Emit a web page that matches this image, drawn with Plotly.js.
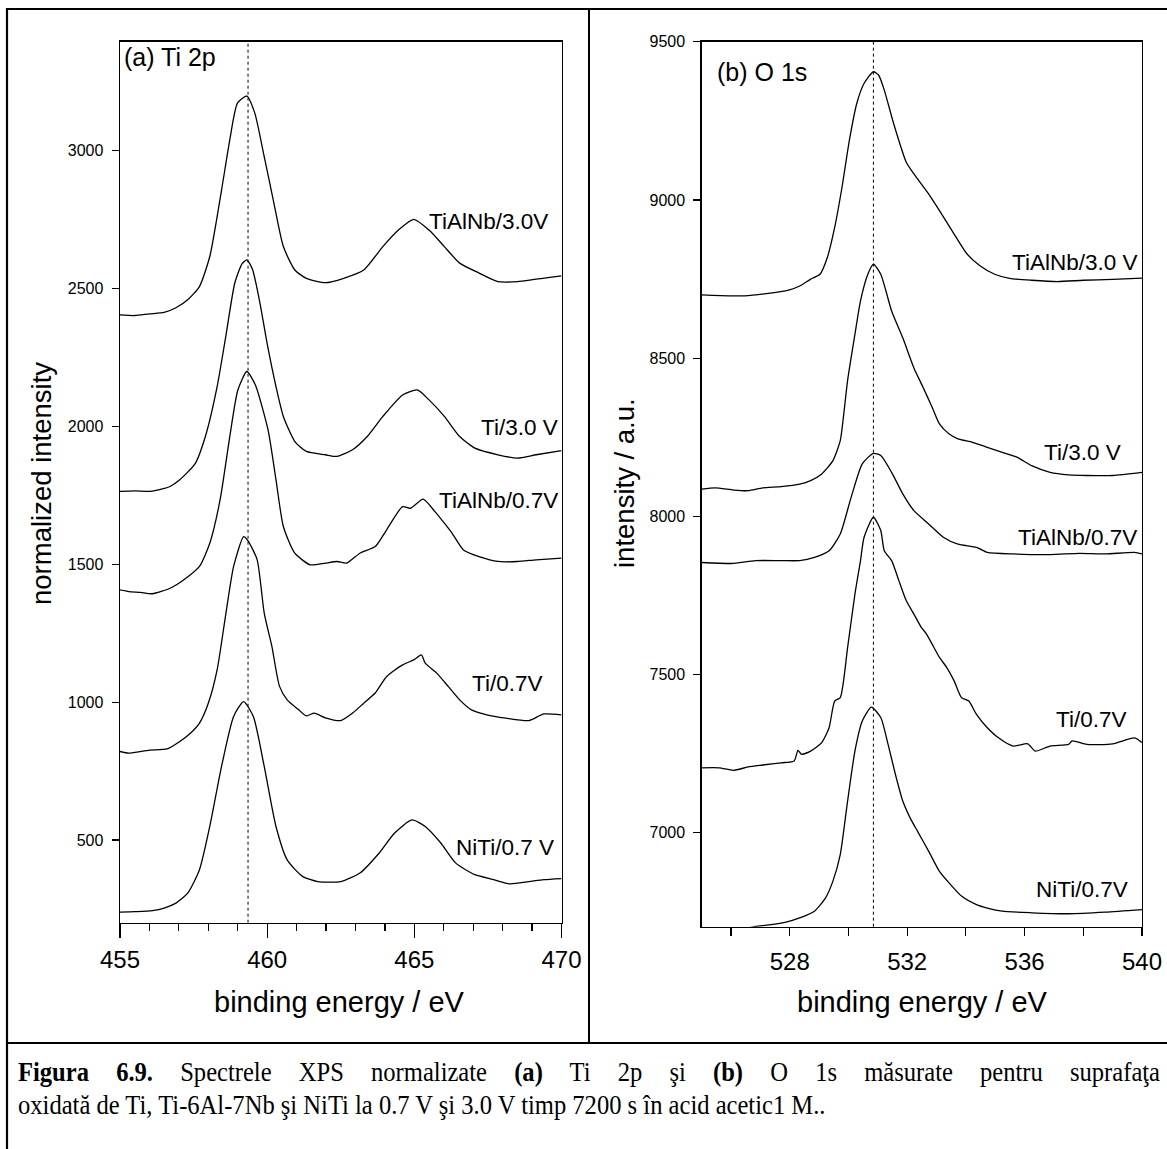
<!DOCTYPE html>
<html>
<head>
<meta charset="utf-8">
<script src="https://cdn.plot.ly/plotly-3.0.1.min.js"></script>
<style>
  html, body { margin:0; padding:0; background:#fff; }
  #wrap { position:relative; width:1167px; height:1149px; overflow:hidden; }
  #chart { position:absolute; left:0; top:0; width:1167px; height:1149px; }
  .cap { position:absolute; left:18px; font-family:"Liberation Serif","Times New Roman",serif; font-size:27px; line-height:27px; color:#000; transform:scaleX(0.91); transform-origin:0 0; white-space:nowrap; }
  #cap1 { top:1059px; width:1255px; text-align:justify; text-align-last:justify; }
  #cap2 { top:1092px; }
</style>
</head>
<body>
<div id="wrap">
  <div id="chart"></div>
  <div id="cap1" class="cap"><b>Figura 6.9.</b> Spectrele XPS normalizate <b>(a)</b> Ti 2p şi <b>(b)</b> O 1s măsurate pentru suprafaţa</div>
  <div id="cap2" class="cap">oxidată de Ti, Ti-6Al-7Nb şi NiTi la 0.7 V şi 3.0 V timp 7200 s în acid acetic1 M..</div>
</div>
<script>
// ---------- Panel (a): Ti 2p ----------
const ti2p_TiAlNb30_x = [455.0,455.5,456.0,456.5,456.9,457.3,457.7,458.05,458.45,458.73,458.99,459.31,459.58,459.9,460.23,460.55,460.94,461.33,461.98,462.6,463.28,463.93,464.46,464.98,465.5,466.02,466.54,467.2,467.84,468.5,469.14,469.6,470.0];
const ti2p_TiAlNb30_y = [2404,2402,2408,2413,2430,2459,2507,2616,2857,3039,3172,3198,3136,2978,2809,2652,2567,2537,2521,2537,2567,2652,2712,2751,2712,2652,2592,2556,2525,2525,2534,2540,2546];

const ti2p_Ti30_x = [455.0,455.5,456.1,456.7,457.03,457.56,457.9,458.3,458.6,458.9,459.15,459.31,459.5,459.75,460.0,460.3,460.55,460.94,461.33,461.98,462.37,462.9,463.4,463.93,464.6,465.1,465.5,466.02,466.54,467.06,467.84,468.5,469.14,470.0];
const ti2p_Ti30_y = [1764,1766,1765,1782,1806,1866,1963,2144,2330,2520,2590,2604,2570,2450,2300,2144,2036,1945,1909,1897,1891,1915,1963,2036,2114,2132,2096,2036,1963,1921,1897,1885,1897,1912];

const ti2p_TiAlNb07_x = [455.0,455.3,455.7,456.1,456.7,457.16,457.7,458.05,458.4,458.73,459.0,459.31,459.6,460.03,460.3,460.55,460.94,461.46,461.98,462.37,462.7,463.15,463.67,464.06,464.6,464.86,465.3,465.7,466.02,466.28,466.67,467.2,467.84,468.5,469.14,470.0];
const ti2p_TiAlNb07_y = [1407,1401,1398,1393,1413,1443,1492,1576,1733,1963,2130,2199,2150,1987,1806,1637,1540,1498,1504,1510,1504,1540,1564,1625,1709,1703,1736,1691,1649,1613,1552,1528,1510,1510,1516,1522];

const ti2p_Ti07_x = [455.0,455.3,456.0,456.6,457.03,457.4,457.7,458.0,458.3,458.6,458.86,459.2,459.35,459.66,459.9,460.16,460.42,460.68,461.07,461.33,461.6,461.98,462.5,462.9,463.28,463.67,464.06,464.6,464.98,465.24,465.37,465.76,466.15,466.54,466.94,467.46,468.11,468.89,469.4,470.0];
const ti2p_Ti07_y = [821,815,826,830,857,888,924,996,1117,1323,1492,1600,1585,1516,1323,1202,1057,1008,972,950,960,943,933,960,996,1033,1093,1135,1153,1171,1141,1105,1057,1008,972,954,942,933,957,954];

const ti2p_NiTi07_x = [455.0,455.5,456.1,456.5,456.9,457.3,457.7,458.05,458.45,458.86,459.2,459.53,459.9,460.3,460.68,461.2,461.72,462.5,463.15,463.8,464.33,464.92,465.37,465.9,466.41,467.06,467.7,468.24,468.89,469.4,470.0];
const ti2p_NiTi07_y = [238,240,244,253,271,307,392,549,767,948,1002,948,767,549,428,368,349,349,380,452,525,573,549,489,416,374,356,341,349,356,360];

// ---------- Panel (b): O 1s ----------
const o1s_TiAlNb30_x = [525.0,525.97,526.46,527.2,527.96,528.34,528.7,529.03,529.28,529.53,529.78,530.03,530.28,530.53,530.85,531.03,531.22,531.54,531.97,532.23,532.73,533.1,533.6,534.04,534.48,534.98,535.49,536.24,537.12,538.0,539.0,540.0];
const o1s_TiAlNb30_y = [8700,8697,8697,8704,8715,8728,8749,8765,8818,8913,9040,9188,9304,9368,9405,9394,9347,9241,9119,9082,9019,8966,8892,8829,8792,8765,8752,8746,8742,8746,8749,8753];

const o1s_Ti30_x = [525.0,525.46,526.09,526.58,527.08,527.71,528.34,528.71,529.09,529.47,529.72,529.84,529.97,530.22,530.41,530.66,530.85,531.1,531.47,531.85,532.23,532.54,532.85,533.1,533.42,533.73,534.23,534.73,535.24,535.74,536.24,536.87,537.5,538.12,539.0,540.0];
const o1s_Ti30_y = [8086,8090,8083,8081,8090,8094,8102,8113,8134,8176,8239,8324,8429,8575,8681,8765,8797,8765,8649,8564,8469,8408,8345,8292,8261,8245,8234,8218,8202,8187,8160,8139,8131,8129,8129,8139];

const o1s_TiAlNb07_x = [525.0,526.09,526.83,527.71,528.34,528.84,529.34,529.72,530.09,530.47,530.85,531.1,531.47,531.85,532.23,532.73,533.23,533.73,534.36,534.73,535.61,536.87,537.87,538.75,539.75,540.0];
const o1s_TiAlNb07_y = [7854,7851,7860,7860,7860,7870,7891,7944,8060,8166,8199,8192,8139,8071,8018,7976,7934,7912,7902,7886,7881,7879,7883,7881,7886,7881];

const o1s_Ti07_x = [525.0,525.6,526.08,526.58,527.08,527.71,528.15,528.28,528.4,528.71,529.09,529.34,529.53,529.72,529.97,530.22,530.41,530.53,530.85,531.1,531.22,531.47,531.72,531.97,532.23,532.48,532.66,532.85,533.1,533.35,533.6,533.85,534.1,534.36,534.73,535.11,535.61,536.11,536.36,536.87,537.5,537.62,538.12,539.0,539.75,540.0];
const o1s_Ti07_y = [7205,7205,7197,7208,7214,7221,7227,7260,7248,7258,7285,7332,7416,7427,7585,7754,7860,7933,7997,7955,7891,7860,7796,7733,7691,7649,7628,7596,7554,7522,7480,7427,7416,7374,7332,7300,7274,7281,7258,7274,7279,7290,7279,7281,7300,7285];

const o1s_NiTi07_x = [525.0,526.0,526.83,527.21,527.84,528.34,528.84,529.22,529.47,529.72,529.97,530.22,530.47,530.78,531.1,531.35,531.6,531.85,532.1,532.35,532.73,533.1,533.48,533.86,534.36,534.73,535.24,536.24,537.5,538.75,540.0];
const o1s_NiTi07_y = [6660,6685,6704,6708,6717,6731,6752,6794,6847,6931,7100,7258,7353,7397,7364,7279,7184,7100,7047,7005,6942,6878,6836,6799,6773,6762,6752,6747,6744,6749,6757];

// reference energies (dotted lines)
const ti2pRefBE = 459.35;
const o1sRefBE = 530.85;

// ---------- build ----------
const W = 1167, H = 1149;
const PX = x => x / W;
const PY = y => 1 - y / H;
const FONT = '"Liberation Sans", Arial, sans-serif';

function tr(x, y, xa, ya) {
  return { x: x, y: y, xaxis: xa, yaxis: ya, type: 'scatter', mode: 'lines',
    line: { color: '#000', width: 1.3, shape: 'spline', smoothing: 0.6 }, hoverinfo: 'skip' };
}
const data = [
  tr(ti2p_TiAlNb30_x, ti2p_TiAlNb30_y, 'x', 'y'),
  tr(ti2p_Ti30_x, ti2p_Ti30_y, 'x', 'y'),
  tr(ti2p_TiAlNb07_x, ti2p_TiAlNb07_y, 'x', 'y'),
  tr(ti2p_Ti07_x, ti2p_Ti07_y, 'x', 'y'),
  tr(ti2p_NiTi07_x, ti2p_NiTi07_y, 'x', 'y'),
  tr(o1s_TiAlNb30_x, o1s_TiAlNb30_y, 'x2', 'y2'),
  tr(o1s_Ti30_x, o1s_Ti30_y, 'x2', 'y2'),
  tr(o1s_TiAlNb07_x, o1s_TiAlNb07_y, 'x2', 'y2'),
  tr(o1s_Ti07_x, o1s_Ti07_y, 'x2', 'y2'),
  tr(o1s_NiTi07_x, o1s_NiTi07_y, 'x2', 'y2')
];

const axBase = { showline: true, linecolor: '#000', linewidth: 1.4, mirror: true, showgrid: false, zeroline: false,
  ticks: 'outside', tickcolor: '#000', tickwidth: 1.2, tickmode: 'linear' };

function ann(text, x, y, xanchor, size, extra) {
  return Object.assign({ text: text, x: PX(x), y: PY(y), xref: 'paper', yref: 'paper', showarrow: false,
    xanchor: xanchor, yanchor: 'middle', font: { family: FONT, size: size, color: '#000' } }, extra || {});
}

const layout = {
  width: W, height: H, margin: { l: 0, r: 0, t: 0, b: 0 },
  paper_bgcolor: '#fff', plot_bgcolor: '#fff', showlegend: false,
  font: { family: FONT, color: '#000' },
  xaxis: Object.assign({}, axBase, { domain: [PX(120), PX(561.5)], range: [455, 470], anchor: 'y',
    tick0: 455, dtick: 5, ticklen: 14, tickfont: { size: 24 }, ticklabelstandoff: 1,
    minor: { dtick: 1, tick0: 455, ticks: 'outside', ticklen: 7, tickcolor: '#000', tickwidth: 1.2, showgrid: false } }),
  yaxis: Object.assign({}, axBase, { domain: [PY(922.7), PY(41.7)], range: [200, 3395], anchor: 'x',
    tick0: 500, dtick: 500, ticklen: 7, tickfont: { size: 16 }, ticklabelstandoff: 5 }),
  xaxis2: Object.assign({}, axBase, { domain: [PX(701.7), PX(1142)], range: [525, 540], anchor: 'y2',
    tick0: 528, dtick: 4, ticklen: 8, tickfont: { size: 24 }, ticklabelstandoff: 5,
    minor: { dtick: 2, tick0: 528, ticks: 'outside', ticklen: 8, tickcolor: '#000', tickwidth: 1.2, showgrid: false } }),
  yaxis2: Object.assign({}, axBase, { domain: [PY(926.7), PY(41.7)], range: [6703, 9500], anchor: 'x2',
    tick0: 7000, dtick: 500, ticklen: 7, tickfont: { size: 16 }, ticklabelstandoff: 5 }),
  xaxis3: { overlaying: 'x2', side: 'top', anchor: 'y2', range: [525, 540], tickmode: 'array',
    tickvals: [526, 530, 534, 538], ticks: 'inside', ticklen: 6, tickcolor: '#000', tickwidth: 1.2,
    showticklabels: false, showline: false, showgrid: false, zeroline: false },
  shapes: [
    { type: 'line', xref: 'x', yref: 'y domain', x0: ti2pRefBE, x1: ti2pRefBE, y0: 0, y1: 1, line: { color: '#000', width: 1, dash: 'dot' } },
    { type: 'line', xref: 'x2', yref: 'y2 domain', x0: o1sRefBE, x1: o1sRefBE, y0: 0, y1: 1, line: { color: '#000', width: 1, dash: 'dot' } },
    // page frame
    { type: 'line', xref: 'paper', yref: 'paper', x0: PX(7), x1: 1, y0: PY(9), y1: PY(9), line: { color: '#000', width: 2.2 } },
    { type: 'line', xref: 'paper', yref: 'paper', x0: PX(7), x1: PX(7), y0: PY(8), y1: 0, line: { color: '#000', width: 2.2 } },
    { type: 'line', xref: 'paper', yref: 'paper', x0: PX(589), x1: PX(589), y0: PY(9), y1: PY(1043), line: { color: '#000', width: 2 } },
    { type: 'line', xref: 'paper', yref: 'paper', x0: PX(7), x1: 1, y0: PY(1043), y1: PY(1043), line: { color: '#000', width: 2.2 } }
  ],
  annotations: [
    ann('normalized intensity', 42, 484, 'center', 27.5, { textangle: -90 }),
    ann('intensity / a.u.', 624, 483, 'center', 27.5, { textangle: -90 }),
    ann('binding energy / eV', 340, 1002, 'center', 29),
    ann('binding energy / eV', 922, 1002, 'center', 29),
    ann('(a) Ti 2p', 122, 57, 'left', 25),
    ann('(b) O 1s', 715, 72, 'left', 25),
    ann('TiAlNb/3.0V', 550, 222, 'right', 22.5),
    ann('Ti/3.0 V', 560, 427, 'right', 22.5),
    ann('TiAlNb/0.7V', 560, 500, 'right', 22.5),
    ann('Ti/0.7V', 544, 683, 'right', 22.5),
    ann('NiTi/0.7 V', 556, 847, 'right', 22.5),
    ann('TiAlNb/3.0 V', 1139, 262, 'right', 22.5),
    ann('Ti/3.0 V', 1123, 452, 'right', 22.5),
    ann('TiAlNb/0.7V', 1139, 537, 'right', 22.5),
    ann('Ti/0.7V', 1128, 719, 'right', 22.5),
    ann('NiTi/0.7V', 1130, 889, 'right', 22.5)
  ]
};

Plotly.newPlot('chart', data, layout, { staticPlot: true, displayModeBar: false });
</script>
</body>
</html>
